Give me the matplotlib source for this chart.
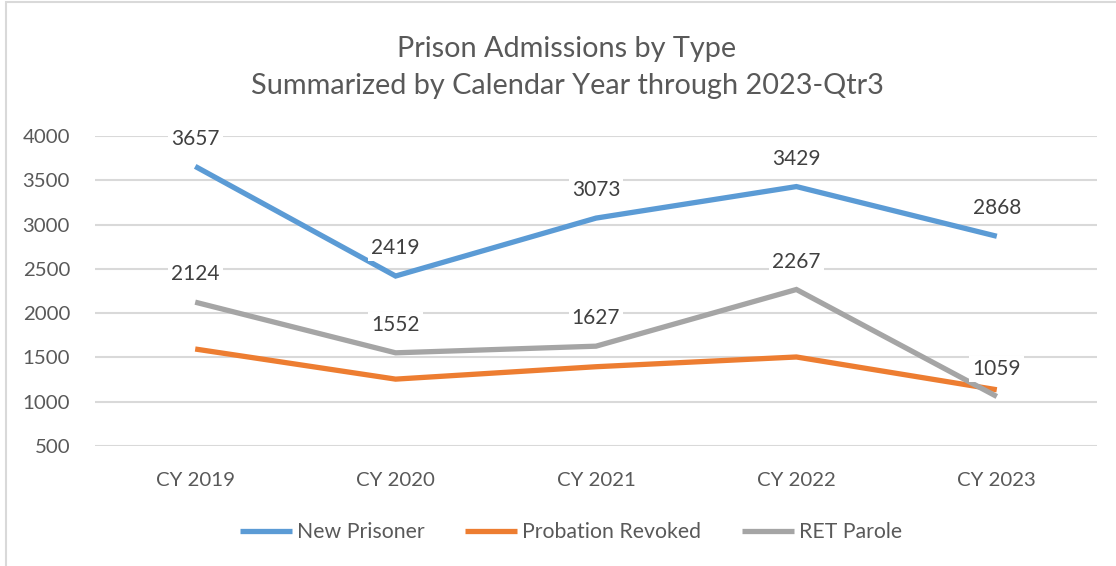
import matplotlib
matplotlib.use("Agg")
import matplotlib.pyplot as plt
from matplotlib.patches import Rectangle

plt.rcParams['font.family'] = ['Lato', 'DejaVu Sans']

categories = ["CY 2019", "CY 2020", "CY 2021", "CY 2022", "CY 2023"]
new_prisoner = [3657, 2419, 3073, 3429, 2868]
probation_revoked = [1595, 1255, 1395, 1505, 1135]
ret_parole = [2124, 1552, 1627, 2267, 1059]
y_ticks = [500, 1000, 1500, 2000, 2500, 3000, 3500, 4000]

W, H = 1116, 566
fig = plt.figure(figsize=(W / 100, H / 100), dpi=100)
fig.patch.set_facecolor("white")

# light chart frame (open at right and bottom edges of the canvas)
fig.add_artist(Rectangle((6 / W, -0.1), 1.2, 1.1 - 2 / H, transform=fig.transFigure,
                         fill=False, edgecolor="#d9d9d9", lw=1.5))

ax = fig.add_axes([95 / W, 1 - 446 / H, 1002 / W, 310 / H])
x = list(range(len(categories)))

series = [
    ("New Prisoner", new_prisoner, "#5b9bd5", True),
    ("Probation Revoked", probation_revoked, "#ed7d31", False),
    ("RET Parole", ret_parole, "#a5a5a5", True),
]
for name, vals, color, labelled in series:
    ax.plot(x, vals, color=color, lw=3.8, solid_capstyle="butt",
            solid_joinstyle="miter", label=name, zorder=3)
    if labelled:
        for xi, v in zip(x, vals):
            ax.annotate(f"{v}", (xi, v), xytext=(0, 20), textcoords="offset points",
                        ha="center", va="center", fontsize=15, color="#404040",
                        bbox=dict(boxstyle="square,pad=0.15", fc="white", ec="none"),
                        zorder=4)

ax.set_xlim(-0.5, len(categories) - 0.5)
ax.set_ylim(500, 4000)
ax.set_yticks(y_ticks)
ax.set_xticks(x)
ax.set_xticklabels(categories)
ax.tick_params(axis="both", length=0, labelsize=14.7, colors="#595959")
ax.tick_params(axis="x", pad=19)
ax.tick_params(axis="y", pad=18)
ax.grid(axis="y", color="#d9d9d9", lw=1.5)
ax.set_axisbelow(True)
for s in ax.spines.values():
    s.set_visible(False)

fig.text(567 / W, 1 - 49 / H, "Prison Admissions by Type", ha="center", va="center",
         fontsize=20.8, color="#595959")
fig.text(567 / W, 1 - 86 / H, "Summarized by Calendar Year through 2023-Qtr3", ha="center",
         va="center", fontsize=20.8, color="#595959")

leg_handles = [plt.Line2D([0], [0], color=c, lw=3.8, solid_capstyle="butt") for _, _, c, _ in series]
fig.legend(leg_handles, [s[0] for s in series], loc="center", bbox_to_anchor=(571 / W, 1 - 532 / H),
           ncol=3, frameon=False, fontsize=15.3, labelcolor="#595959", handlelength=2.45,
           handletextpad=0.25, columnspacing=1.9)

fig.savefig("out.png", dpi=100, facecolor="white")
